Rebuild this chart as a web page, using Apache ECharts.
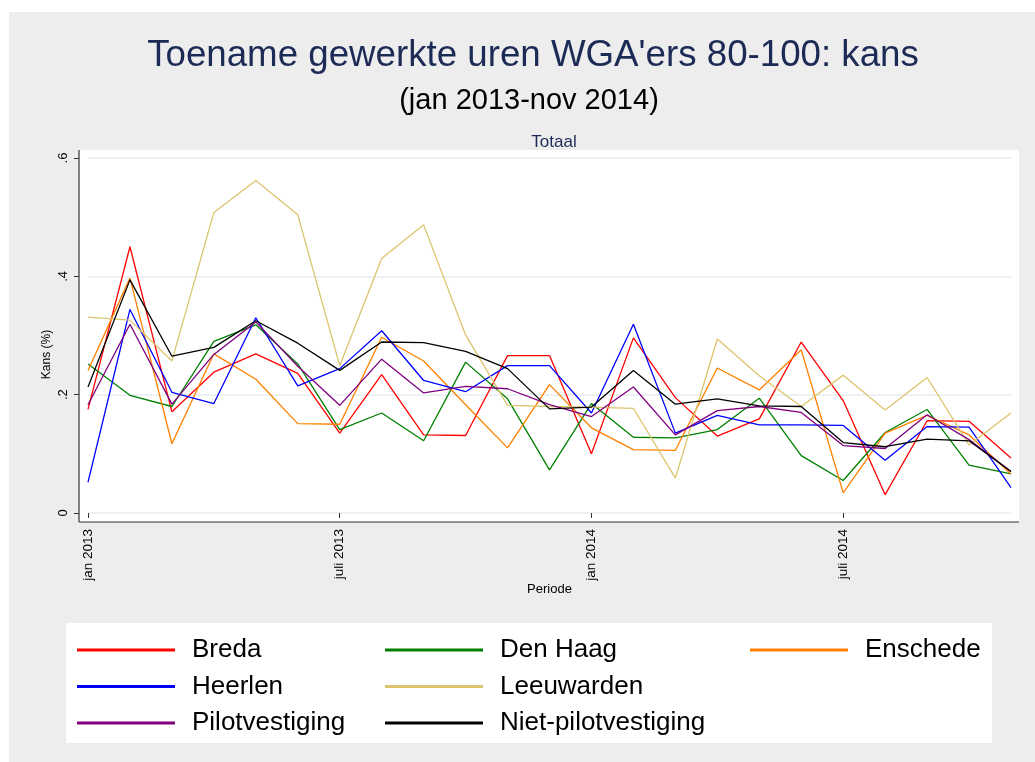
<!DOCTYPE html>
<html>
<head>
<meta charset="utf-8">
<script src="https://cdn.jsdelivr.net/npm/echarts@6/dist/echarts.min.js"></script>
<style>
    html, body { margin: 0; padding: 0; background: #fff; }
    #chart { width: 1035px; height: 762px; }
</style>
</head>
<body>
<div id="chart"></div>
<script>
// periods jan 2013 - nov 2014
var months = ['jan 2013', 'feb 2013', 'mrt 2013', 'apr 2013', 'mei 2013', 'juni 2013',
    'juli 2013', 'aug 2013', 'sep 2013', 'okt 2013', 'nov 2013', 'dec 2013',
    'jan 2014', 'feb 2014', 'mrt 2014', 'apr 2014', 'mei 2014', 'juni 2014',
    'juli 2014', 'aug 2014', 'sep 2014', 'okt 2014', 'nov 2014'];
var yTicks = [0, 0.2, 0.4, 0.6];

var breda = [0.175, 0.450, 0.171, 0.238, 0.269, 0.236, 0.135, 0.234, 0.132, 0.131, 0.266, 0.266,
    0.100, 0.296, 0.195, 0.130, 0.159, 0.289, 0.190, 0.031, 0.156, 0.155, 0.093];
var denHaag = [0.252, 0.199, 0.180, 0.290, 0.318, 0.252, 0.141, 0.169, 0.122, 0.255, 0.193, 0.073,
    0.185, 0.128, 0.127, 0.141, 0.194, 0.097, 0.055, 0.136, 0.175, 0.081, 0.066];
var enschede = [0.241, 0.397, 0.117, 0.269, 0.226, 0.151, 0.150, 0.297, 0.257, 0.183, 0.110, 0.217,
    0.144, 0.107, 0.106, 0.245, 0.208, 0.276, 0.034, 0.135, 0.165, 0.132, 0.066];
var heerlen = [0.052, 0.344, 0.204, 0.185, 0.330, 0.215, 0.244, 0.308, 0.224, 0.205, 0.249, 0.249,
    0.169, 0.319, 0.135, 0.165, 0.149, 0.149, 0.148, 0.089, 0.146, 0.145, 0.043];
var leeuwarden = [0.331, 0.326, 0.257, 0.508, 0.562, 0.504, 0.249, 0.430, 0.487, 0.301, 0.182, 0.180,
    0.179, 0.177, 0.059, 0.294, 0.232, 0.180, 0.233, 0.174, 0.229, 0.115, 0.169];
var pilot = [0.183, 0.319, 0.184, 0.268, 0.323, 0.248, 0.182, 0.260, 0.203, 0.214, 0.210, 0.183,
    0.163, 0.213, 0.132, 0.173, 0.180, 0.170, 0.114, 0.109, 0.166, 0.124, 0.070];
var nietPilot = [0.213, 0.394, 0.265, 0.280, 0.325, 0.287, 0.241, 0.289, 0.288, 0.273, 0.244, 0.176,
    0.179, 0.241, 0.184, 0.193, 0.181, 0.180, 0.119, 0.112, 0.125, 0.122, 0.070];

var names = ['Breda', 'Den Haag', 'Enschede', 'Heerlen', 'Leeuwarden', 'Pilotvestiging', 'Niet-pilotvestiging'];
var values = [breda, denHaag, enschede, heerlen, leeuwarden, pilot, nietPilot];
var colors = ['#ff0000', '#008000', '#ff8000', '#0000ff', '#dcc46e', '#800080', '#000000'];

var chart = echarts.init(document.getElementById('chart'));

var font = 'Liberation Sans, Arial, sans-serif';
var navy = '#1c2b55';

function makeLegend(data, left) {
    return {
        orient: 'vertical',
        left: left,
        top: 635,
        data: data,
        icon: 'rect',
        itemWidth: 98,
        itemHeight: 3,
        itemGap: 6.5,
        padding: 0,
        selectedMode: false,
        textStyle: {
            fontFamily: font,
            fontSize: 26,
            color: '#000',
            lineHeight: 30,
            padding: [0, 0, 0, 12]
        }
    };
}

var series = [];
for (var i = 0; i < names.length; i++) {
    series.push({
        name: names[i],
        type: 'line',
        data: values[i],
        showSymbol: false,
        symbol: 'none',
        lineStyle: {color: colors[i], width: 1.3},
        itemStyle: {color: colors[i]},
        emphasis: {disabled: true}
    });
}

var option = {
    backgroundColor: '#ffffff',
    animation: false,
    textStyle: {fontFamily: font},
    title: [
        {
            text: "Toename gewerkte uren WGA'ers 80-100: kans",
            left: 528, top: 32, textAlign: 'center',
            textStyle: {fontFamily: font, fontSize: 36.7, fontWeight: 'normal', color: navy}
        },
        {
            text: '(jan 2013-nov 2014)',
            left: 524, top: 81, textAlign: 'center',
            textStyle: {fontFamily: font, fontSize: 29, fontWeight: 'normal', color: '#000'}
        },
        {
            text: 'Totaal',
            left: 549, top: 129, textAlign: 'center',
            textStyle: {fontFamily: font, fontSize: 17, fontWeight: 'normal', color: navy}
        }
    ],
    graphic: [
        {type: 'rect', z: -10, shape: {x: 9, y: 12, width: 1026, height: 750}, style: {fill: '#ededed'}},
        {type: 'rect', z: -9, shape: {x: 79, y: 150, width: 940, height: 372}, style: {fill: '#ffffff'}},
        {type: 'rect', z: -9, shape: {x: 66, y: 623, width: 926, height: 120}, style: {fill: '#ffffff'}},
        {type: 'line', z: 10, shape: {x1: 79, y1: 150, x2: 79, y2: 522}, style: {stroke: '#333', lineWidth: 1.2}},
        {type: 'line', z: 10, shape: {x1: 79, y1: 522, x2: 1019, y2: 522}, style: {stroke: '#333', lineWidth: 1.2}}
    ],
    legend: [
        makeLegend(['Breda', 'Heerlen', 'Pilotvestiging'], 77),
        makeLegend(['Den Haag', 'Leeuwarden', 'Niet-pilotvestiging'], 385),
        makeLegend(['Enschede'], 750)
    ],
    grid: {left: 88, right: 24, top: 158, bottom: 249},
    xAxis: {
        type: 'category',
        data: months,
        boundaryGap: false,
        offset: 8,
        name: 'Periode',
        nameLocation: 'middle',
        nameGap: 62,
        nameMoveOverlap: false,
        nameTextStyle: {fontFamily: font, fontSize: 13, color: '#000'},
        axisLine: {show: false},
        axisTick: {show: true, interval: 5, length: 5, lineStyle: {color: '#333'}},
        axisLabel: {
            interval: 5, rotate: 90, margin: 8,
            fontFamily: font, fontSize: 13.5, color: '#000'
        },
        splitLine: {show: false}
    },
    yAxis: {
        type: 'value',
        min: yTicks[0],
        max: yTicks[yTicks.length - 1],
        interval: 0.2,
        offset: 9,
        name: 'Kans (%)',
        nameLocation: 'middle',
        nameGap: 26,
        nameMoveOverlap: false,
        nameTextStyle: {fontFamily: font, fontSize: 12, color: '#000', padding: [0, 38, 0, 0]},
        axisLine: {show: false},
        axisTick: {show: true, length: 5, lineStyle: {color: '#333'}},
        axisLabel: {
            rotate: 90, margin: 9,
            fontFamily: font, fontSize: 13, color: '#000',
            formatter: function (v) {
                return v === 0 ? '0' : String(+v.toFixed(1)).replace('0.', '.');
            }
        },
        splitLine: {show: true, lineStyle: {color: '#e6eef1', width: 1.5}}
    },
    series: series
};
chart.setOption(option);
</script>
</body>
</html>
